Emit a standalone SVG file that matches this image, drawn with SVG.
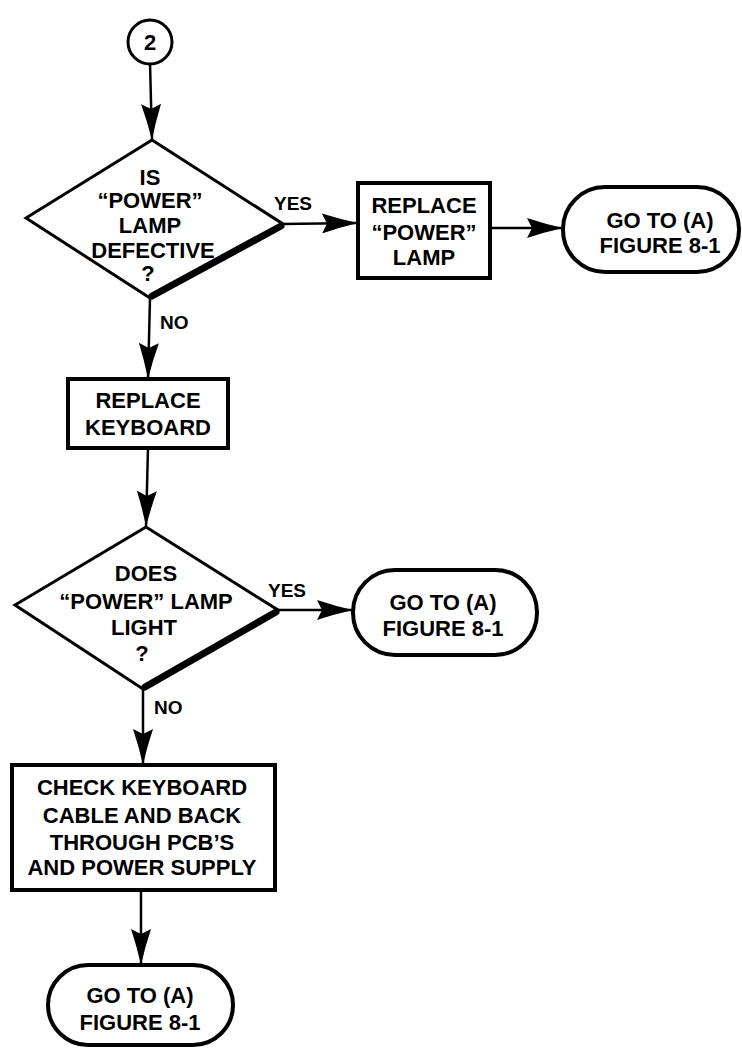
<svg xmlns="http://www.w3.org/2000/svg" width="742" height="1048" viewBox="0 0 742 1048">
<style>
text{font-family:"Liberation Sans",Arial,sans-serif;font-weight:bold;fill:#000;text-anchor:middle;font-size:22px}
.lbl{font-size:19px;text-anchor:start}
.shape{fill:#fff;stroke:#000;stroke-width:3}
.box{fill:#fff;stroke:#000;stroke-width:4}
.thick{stroke:#000;stroke-width:7;stroke-linecap:round}
.conn{stroke:#000;stroke-width:2.5;fill:none;marker-end:url(#ah)}
</style>
<defs>
<marker id="ah" viewBox="0 0 36 20" refX="36" refY="10" markerWidth="36" markerHeight="20" markerUnits="userSpaceOnUse" orient="auto">
<path d="M0,0 Q18,6 36,10 Q18,14 0,20 L5,10 Z" fill="#000"/>
</marker>
</defs>
<rect width="742" height="1048" fill="#fff"/>
<g id="connectors">
<line class="conn" x1="150" y1="63" x2="152" y2="140"/>
<line class="conn" x1="283" y1="224" x2="358" y2="223"/>
<line class="conn" x1="490" y1="228" x2="563" y2="228"/>
<line class="conn" x1="150" y1="298" x2="148" y2="379"/>
<line class="conn" x1="148" y1="448" x2="146" y2="527"/>
<line class="conn" x1="278" y1="610" x2="353" y2="610"/>
<line class="conn" x1="143" y1="689" x2="143" y2="765"/>
<line class="conn" x1="141" y1="890" x2="141" y2="965"/>
<text class="lbl" x="274" y="210">YES</text>
<text class="lbl" x="160" y="329">NO</text>
<text class="lbl" x="268" y="597">YES</text>
<text class="lbl" x="154" y="714">NO</text>
</g>
<g id="start">
<circle class="shape" cx="150" cy="42" r="22"/>
<text x="150" y="50">2</text>
</g>
<g id="decision1">
<polygon class="shape" points="152,140 283,224 150,298 26,218"/>
<line class="thick" x1="281" y1="226" x2="152" y2="296"/>
<text x="150" y="185">IS</text>
<text x="150" y="208">“POWER”</text>
<text x="150" y="233">LAMP</text>
<text x="153" y="258">DEFECTIVE</text>
<text x="148" y="281">?</text>
</g>
<g id="replaceLamp">
<rect class="box" x="358" y="183" width="132" height="95"/>
<text x="424" y="213">REPLACE</text>
<text x="424" y="240">“POWER”</text>
<text x="424" y="265">LAMP</text>
</g>
<g id="goto1">
<rect class="box" x="563" y="187" width="176" height="85" rx="42" ry="42"/>
<text x="660" y="228">GO TO (A)</text>
<text x="660" y="253">FIGURE 8-1</text>
</g>
<g id="replaceKeyboard">
<rect class="box" x="68" y="379" width="160" height="69"/>
<text x="148" y="408">REPLACE</text>
<text x="148" y="435">KEYBOARD</text>
</g>
<g id="decision2">
<polygon class="shape" points="146,527 278,610 143,689 15,605"/>
<line class="thick" x1="276" y1="612" x2="145" y2="687"/>
<text x="146" y="581">DOES</text>
<text x="146" y="609">“POWER” LAMP</text>
<text x="144" y="635">LIGHT</text>
<text x="142" y="661">?</text>
</g>
<g id="goto2">
<rect class="box" x="353" y="570" width="184" height="85" rx="42" ry="42"/>
<text x="443" y="610">GO TO (A)</text>
<text x="443" y="636">FIGURE 8-1</text>
</g>
<g id="checkCable">
<rect class="box" x="12" y="765" width="263" height="125"/>
<text x="142" y="795">CHECK KEYBOARD</text>
<text x="142" y="823">CABLE AND BACK</text>
<text x="142" y="850">THROUGH PCB’S</text>
<text x="142" y="875">AND POWER SUPPLY</text>
</g>
<g id="goto3">
<rect class="box" x="48" y="965" width="185" height="80" rx="40" ry="40"/>
<text x="140" y="1003">GO TO (A)</text>
<text x="140" y="1030">FIGURE 8-1</text>
</g>
</svg>
